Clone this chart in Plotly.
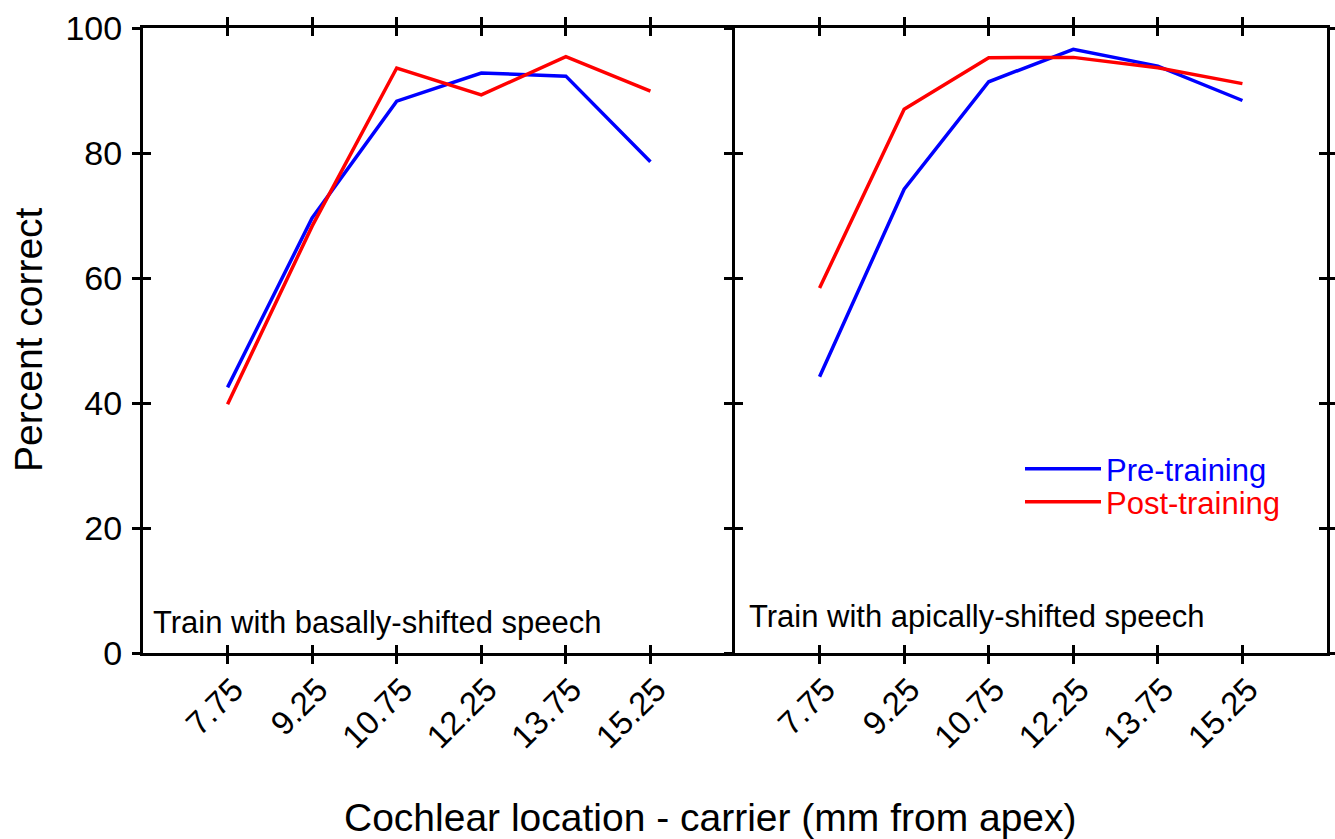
import plotly.graph_objects as go

categories = ["7.75", "9.25", "10.75", "12.25", "13.75", "15.25"]
y_ticks = [0, 20, 40, 60, 80, 100]

basal_pre = [42.5, 69.6, 88.3, 92.8, 92.3, 78.6]
basal_post = [39.8, 68.3, 93.6, 89.3, 95.4, 89.9]
apical_pre = [44.2, 74.2, 91.4, 96.6, 93.9, 88.4]
apical_post = [58.4, 87.0, 95.25, 95.3, 93.65, 91.1]

panel_labels = ["Train with basally-shifted speech", "Train with apically-shifted speech"]
series_names = ["Pre-training", "Post-training"]
x_title = "Cochlear location - carrier (mm from apex)"
y_title = "Percent correct"

BLUE = "#0000FF"
RED = "#FF0000"
FONT = "Liberation Sans, Arial, sans-serif"
W, H = 1335, 839

fig = go.Figure()

# left panel
fig.add_trace(go.Scatter(x=categories, y=basal_pre, mode="lines", line=dict(color=BLUE, width=3.5),
                         name=series_names[0], showlegend=False, xaxis="x", yaxis="y"))
fig.add_trace(go.Scatter(x=categories, y=basal_post, mode="lines", line=dict(color=RED, width=3.5),
                         name=series_names[1], showlegend=False, xaxis="x", yaxis="y"))
# right panel
fig.add_trace(go.Scatter(x=categories, y=apical_pre, mode="lines", line=dict(color=BLUE, width=3.5),
                         name=series_names[0], showlegend=True, legend="legend", xaxis="x2", yaxis="y2"))
fig.add_trace(go.Scatter(x=categories, y=apical_post, mode="lines", line=dict(color=RED, width=3.5),
                         name=series_names[1], showlegend=True, legend="legend2", xaxis="x2", yaxis="y2"))

# empty helper traces so the inside-tick overlay axes get drawn
for xa, ya in [("x3", "y"), ("x", "y3"), ("x4", "y2"), ("x2", "y4")]:
    fig.add_trace(go.Scatter(x=[], y=[], mode="lines", showlegend=False, hoverinfo="skip",
                             xaxis=xa, yaxis=ya))

xd1 = [143 / W, 735 / W]
xd2 = [735 / W, 1327 / W]
yd = [1 - 653 / H, 1 - 28 / H]

TL = 8
TW = 3
LW = 3
xr = [-1, len(categories)]

def xmain(domain, anchor):
    return dict(domain=domain, anchor=anchor, type="category", categoryorder="array",
                categoryarray=categories, range=xr, showline=True, linewidth=LW, linecolor="black",
                mirror="ticks", ticks="outside", ticklen=TL, tickwidth=TW, tickcolor="black",
                tickangle=-45, tickfont=dict(family=FONT, size=33, color="black"),
                ticklabelstandoff=-7, ticklabelshift=6,
                showgrid=False, zeroline=False, fixedrange=True, automargin=False)

def xin(over, anchor):
    return dict(overlaying=over, anchor=anchor, type="linear", range=xr,
                tickvals=list(range(len(categories))), ticks="inside", ticklen=TL, tickwidth=TW,
                tickcolor="black", mirror="ticks", showline=False, showticklabels=False,
                showgrid=False, zeroline=False, fixedrange=True, automargin=False)

def ymain(anchor, labels, mirror):
    return dict(domain=yd, anchor=anchor, range=[0, 100], tickvals=y_ticks, showline=True,
                linewidth=LW, linecolor="black", mirror=mirror, ticks="outside", ticklen=TL,
                tickwidth=TW, tickcolor="black", showticklabels=labels, ticklabelstandoff=3,
                tickfont=dict(family=FONT, size=34, color="black"),
                showgrid=False, zeroline=False, fixedrange=True, automargin=False)

def yin(over, anchor):
    return dict(overlaying=over, anchor=anchor, range=[0, 100], tickvals=y_ticks, ticks="inside",
                ticklen=TL, tickwidth=TW, tickcolor="black", mirror="ticks", showline=False,
                showticklabels=False, showgrid=False, zeroline=False, fixedrange=True,
                automargin=False)

fig.update_layout(
    width=W, height=H, margin=dict(l=0, r=0, t=0, b=0, autoexpand=False),
    paper_bgcolor="white", plot_bgcolor="white",
    font=dict(family=FONT, color="black"),
    xaxis=xmain(xd1, "y"),
    xaxis2=xmain(xd2, "y2"),
    xaxis3=xin("x", "y"),
    xaxis4=xin("x2", "y2"),
    yaxis=ymain("x", True, False),
    yaxis2=ymain("x2", False, "ticks"),
    yaxis3=yin("y", "x"),
    yaxis4=yin("y2", "x2"),
    legend=dict(x=1020 / W, y=1 - 469 / H, xanchor="left", yanchor="middle",
                bgcolor="rgba(0,0,0,0)", borderwidth=0, itemwidth=76,
                font=dict(family=FONT, size=31, color=BLUE)),
    legend2=dict(x=1020 / W, y=1 - 502 / H, xanchor="left", yanchor="middle",
                 bgcolor="rgba(0,0,0,0)", borderwidth=0, itemwidth=76,
                 font=dict(family=FONT, size=31, color=RED)),
    showlegend=True,
    annotations=[
        dict(text=panel_labels[0], xref="paper", yref="paper", x=151 / W, y=1 - 622 / H,
             xanchor="left", yanchor="middle", showarrow=False,
             font=dict(family=FONT, size=31, color="black")),
        dict(text=panel_labels[1], xref="paper", yref="paper", x=747 / W, y=1 - 616 / H,
             xanchor="left", yanchor="middle", showarrow=False,
             font=dict(family=FONT, size=31, color="black")),
        dict(text=y_title, xref="paper", yref="paper", x=28 / W, y=1 - 340 / H,
             xanchor="center", yanchor="middle", textangle=-90, showarrow=False,
             font=dict(family=FONT, size=39, color="black")),
        dict(text=x_title, xref="paper", yref="paper", x=710 / W, y=1 - 817 / H,
             xanchor="center", yanchor="middle", showarrow=False,
             font=dict(family=FONT, size=39, color="black")),
    ],
)

fig.write_html("out.html", config={"displayModeBar": False},
               post_script="document.body.style.margin='0';")
